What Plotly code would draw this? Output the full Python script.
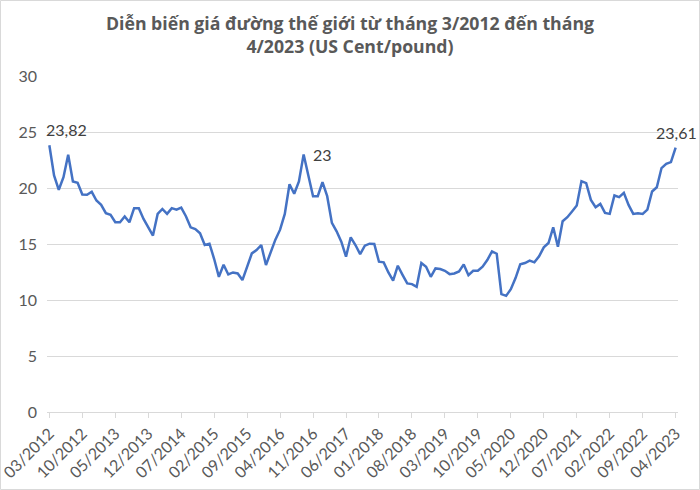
import plotly.graph_objects as go

# Monthly world sugar price, US cent/pound, 03/2012 .. 04/2023
start_year, start_month = 2012, 3
prices = [
    23.82, 21.12, 19.84, 20.97, 22.97, 20.58, 20.46, 19.42, 19.39, 19.66,
    18.88, 18.50, 17.75, 17.60, 16.94, 16.94, 17.45, 16.94, 18.20, 18.20,
    17.24, 16.55, 15.75, 17.69, 18.13, 17.69, 18.20, 18.07, 18.25, 17.48,
    16.49, 16.34, 15.96, 14.92, 15.03, 13.66, 12.07, 13.15, 12.28, 12.46,
    12.37, 11.78, 12.97, 14.16, 14.46, 14.91, 13.12, 14.25, 15.39, 16.28,
    17.69, 20.34, 19.48, 20.58, 23.00, 21.12, 19.27, 19.27, 20.52, 19.27,
    16.88, 16.13, 15.21, 13.87, 15.60, 14.91, 14.10, 14.85, 15.03, 15.00,
    13.42, 13.36, 12.46, 11.72, 13.06, 12.25, 11.48, 11.42, 11.18, 13.30,
    12.97, 12.07, 12.82, 12.76, 12.61, 12.31, 12.37, 12.55, 13.18, 12.22,
    12.61, 12.61, 12.97, 13.57, 14.34, 14.13, 10.52, 10.37, 10.97, 11.96,
    13.18, 13.30, 13.51, 13.36, 13.90, 14.70, 15.09, 16.49, 14.76, 17.03,
    17.39, 17.90, 18.43, 20.61, 20.43, 18.94, 18.28, 18.58, 17.78, 17.69,
    19.33, 19.18, 19.57, 18.49, 17.69, 17.75, 17.69, 18.07, 19.69, 20.07,
    21.78, 22.16, 22.31, 23.61,
]
months = []
for k in range(len(prices)):
    m = start_month - 1 + k
    months.append(f"{m % 12 + 1:02d}/{start_year + m // 12}")

tick_labels = months[::7]
label_points = {0: "23,82", 54: "23", len(prices) - 1: "23,61"}

grey = "#595959"
fig = go.Figure()
fig.add_trace(go.Scatter(
    x=months, y=prices, mode="lines",
    line=dict(color="#4472C4", width=2.5),
    hoverinfo="x+y", showlegend=False,
))

last = len(prices) - 1
anns = []
for idx, txt in label_points.items():
    if idx == 0:
        anns.append(dict(x=months[idx], y=prices[idx], text=txt, showarrow=False,
                         xanchor="left", yanchor="bottom", yshift=4, xshift=-5))
    elif idx == last:
        anns.append(dict(x=months[idx], y=prices[idx], text=txt, showarrow=False,
                         xanchor="right", yanchor="bottom", yshift=4, xshift=23))
    else:
        anns.append(dict(x=months[idx], y=prices[idx], text=txt, showarrow=False,
                         xanchor="left", yanchor="middle", xshift=7, yshift=0))
for a in anns:
    a["font"] = dict(family="Lato", size=16, color="#404040")

fig.update_layout(
    width=700, height=490,
    margin=dict(l=47, r=22, t=76, b=78, autoexpand=False),
    paper_bgcolor="white", plot_bgcolor="white",
    font=dict(family="Lato", size=14, color=grey),
    title=dict(
        text="Diễn biến giá đường thế giới từ tháng 3/2012 đến tháng<br>4/2023 (US Cent/pound)",
        x=0.5, xanchor="center", y=0.939, yanchor="top",
        font=dict(family="Open Sans", size=17.7, color=grey, weight="bold"),
    ),
    annotations=anns,
    shapes=[dict(type="rect", xref="paper", yref="paper",
                 x0=-46.5 / 631, x1=1 + 21.5 / 631, y0=-77.5 / 336, y1=1 + 75.5 / 336,
                 line=dict(color="#d9d9d9", width=1))],
)
fig.update_xaxes(
    type="category", range=[-0.5, len(prices) - 0.5], automargin=False,
    tickmode="array", tickvals=tick_labels, ticktext=tick_labels,
    tickangle=-45, ticks="outside", ticklen=5, tickcolor="#d9d9d9",
    showline=True, linecolor="#d9d9d9", linewidth=1, showgrid=False,
    tickfont=dict(family="Lato", size=16, color=grey),
)
fig.update_yaxes(
    range=[0, 30], dtick=5, showgrid=True, gridcolor="#d9d9d9", gridwidth=1,
    zeroline=False, showline=False, ticks="", ticklabelstandoff=9, automargin=False,
    tickfont=dict(family="Lato", size=16, color=grey),
)
fig.write_html("out.html", config={"displayModeBar": False},
               post_script="document.body.style.margin='0';document.body.style.padding='0';")
